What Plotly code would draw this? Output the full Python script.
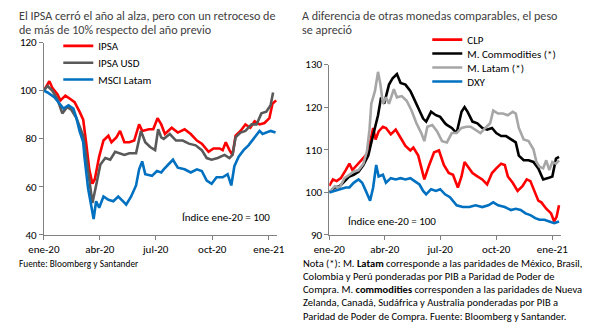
import pandas as pd
import plotly.graph_objects as go

BASE = pd.Timestamp("2020-01-01")

# ---------- Panel izquierdo (días desde 2020-01-01) ----------
ipsa_dias = [0,9,14,22,27,35,43,50,58,64,69,74,79,83,90,97,105,110,118,124,131,139,147,155,160,171,178,185,191,197,208,218,229,239,249,257,268,276,286,291,296,302,307,312,320,328,336,343,351,359,367,372,378]
ipsa_val = [100,103.9,101,98.5,95.9,97.9,96.5,95.2,91.2,87.9,77.9,67,61.2,63.2,72.5,79.2,81.2,78.5,80.5,83.2,78.5,78.5,79.2,85.9,83.2,83.9,83.9,88.5,85.9,81.9,84.5,82.5,83.9,81.9,79.2,77.9,74.5,75.9,75.9,75.2,78.5,75.2,73.2,81.2,83.2,85.9,84.5,87.2,85.9,86.5,88.5,94.5,95.9]

ipsausd_dias = [0,6,14,22,30,38,45,53,58,64,69,74,79,85,92,100,108,116,124,131,139,150,158,165,173,181,186,191,195,205,215,226,236,247,257,265,273,283,294,302,307,312,320,328,338,346,354,362,369,373]
ipsausd_val = [100,101.9,99.9,96.5,90.5,93.2,91.9,88.5,85.2,81.2,72.5,61.9,53.2,60.5,69.2,71.9,71.2,74.5,73.9,73.2,73.9,73.9,83.2,78.5,76.5,75.2,83.9,80.5,79.9,81.9,79.2,79.2,77.9,77.2,75.2,71.9,71.2,71.9,73.2,71.9,73.2,80.5,82.5,83.2,85.9,85.9,90.5,91.2,93.9,99.2]

msci_dias = [0,6,17,25,32,40,48,53,58,64,66,72,77,81,85,90,97,105,113,121,129,134,142,150,155,160,165,176,184,191,195,202,210,218,229,239,249,257,265,273,281,291,299,305,310,317,325,333,341,351,356,364,369,377]
msci_val = [100,99.2,97.2,94.5,92.5,93.9,92.5,88.5,83.2,78.5,72.5,59.2,51.2,46.5,53.9,51.2,55.9,54.5,53.9,55.9,53.9,52.5,55.9,60.5,67.2,70.5,65.2,64.5,66.5,65.9,67.2,69.2,71.2,67.9,67.2,65.9,67.2,66.5,62.5,61.2,63.9,63.9,65.2,60.5,68.5,72.5,75.2,77.2,79.9,83.2,81.9,82.5,83.2,82.5]

# ---------- Panel derecho ----------
clp_dias = [0,6,12,19,27,33,38,46,51,56,62,67,72,76,81,88,93,101,109,117,125,133,138,146,151,156,164,172,180,188,196,203,211,217,222,227,235,243,251,259,267,274,282,288,293,301,309,317,324,330,335,343,348,356,364,369,373,377]
clp_val = [101.5,103,102.6,103.3,105.2,106.7,105.2,106.4,107.1,107.9,109,111.7,115.1,112.4,114.3,115.4,115.1,113.6,114.7,112.8,110.9,109.8,110.5,108.6,105.6,103,106.4,109.4,109.8,106.4,104.5,104.1,101.1,103.7,107.1,106,104.5,103.7,103,101.8,104.5,105.6,106.7,106.4,103.7,102.2,100.3,101.4,103,102.6,100.7,98,97.6,96.1,95,93.1,94.2,96.9]

com_dias = [0,9,17,25,33,40,48,56,64,69,76,80,85,90,98,104,111,117,125,133,138,146,154,159,167,175,182,190,193,201,209,217,222,227,235,243,251,259,267,274,282,290,298,306,311,319,327,335,343,351,359,366,372,377]
com_val = [100,101.1,101.4,102.6,103.7,104.1,104.8,106.4,108.6,111.7,115.4,118.1,122.3,120.8,125.3,126.8,127.8,125.7,125.3,123.8,122.3,119.6,117.3,116.6,118.9,118.1,117.7,116.2,115.8,115.1,113.9,118.9,120,118.9,116.6,116.2,115.1,114.7,115.1,113.9,113.2,113.2,112.4,111.7,108.6,107.5,107.5,107.1,105.6,103,103.3,103.7,107.9,108.3]

lat_dias = [0,9,17,25,33,40,48,56,62,66,69,75,80,84,88,93,98,106,111,119,127,135,143,151,156,161,169,177,185,193,201,209,217,225,232,240,248,256,264,269,277,285,293,301,306,311,319,327,335,340,345,351,356,361,366,372,377]
lat_val = [100,101.4,101.1,103.3,104.1,104.8,105.2,106.7,109.8,114.7,120.8,123.8,128.3,125.3,120.8,122.3,120.8,124.2,122.3,122.6,121.5,119.2,116.2,113.9,112,115.4,115.8,114.3,112,111.7,113.9,113.9,115.1,115.4,115.4,114.7,113.9,115.1,116.2,119.2,118.5,118.5,118.1,118.9,118.5,115.1,112.4,112,110.1,107.1,106,105.6,107.5,105.2,107.1,106.7,107.5]

dxy_dias = [0,9,19,27,33,40,48,54,60,67,72,77,81,88,93,101,109,117,125,133,140,148,154,159,167,175,182,190,198,209,219,230,240,251,261,269,277,288,298,306,314,322,330,338,345,353,361,369,377]
dxy_val = [99.9,100.3,100.7,101.1,101.1,102.2,103,102.2,100.3,98,101.1,106.4,103.7,104.1,102.2,103.3,103,103.3,103,103.3,102.6,101.8,100.3,99.5,100.7,100.3,100.7,99.5,98.8,96.9,96.5,96.5,96.9,96.5,96.9,97.6,96.9,96.5,95.8,96.1,95.8,95,94.6,93.9,93.5,93.5,93.1,92.7,93.1]

tick_fechas = ["2020-01-01", "2020-04-01", "2020-07-01", "2020-10-01", "2021-01-01"]
tick_textos = ["ene-20", "abr-20", "jul-20", "oct-20", "ene-21"]

titulo_izq = ["El IPSA cerró el año al alza, pero con un retroceso de",
              "de más de 10% respecto del año previo"]
titulo_der = ["A diferencia de otras monedas comparables, el peso",
              "se apreció"]
nota_lineas = ["Nota (*): M. <b>Latam</b> corresponde a las paridades de México, Brasil,",
               "Colombia y Perú ponderadas por PIB a Paridad de Poder de",
               "Compra. M. <b>commodities</b> corresponden a las paridades de Nueva",
               "Zelanda, Canadá, Sudáfrica y Australia ponderadas por PIB a",
               "Paridad de Poder de Compra. Fuente: Bloomberg y Santander."]
fuente_izq = "Fuente: Bloomberg y Santander"
indice_txt = "Índice ene-20 = 100"


def fechas(dias):
    return BASE + pd.to_timedelta(dias, unit="D")


W, H = 589, 332
FONT = "Carlito, Lato"
TXT = "#404040"

fig = go.Figure()

series = [
    ("IPSA", ipsa_dias, ipsa_val, "#ff0000", "x", "y", "legend"),
    ("IPSA USD", ipsausd_dias, ipsausd_val, "#595959", "x", "y", "legend2"),
    ("MSCI Latam", msci_dias, msci_val, "#0070c0", "x", "y", "legend3"),
    ("CLP", clp_dias, clp_val, "#ff0000", "x2", "y2", "legend4"),
    ("M. Commodities (*)", com_dias, com_val, "#000000", "x2", "y2", "legend5"),
    ("M. Latam (*)", lat_dias, lat_val, "#a6a6a6", "x2", "y2", "legend6"),
    ("DXY", dxy_dias, dxy_val, "#0070c0", "x2", "y2", "legend7"),
]
for name, d, v, col, xa, ya, lg in series:
    fig.add_trace(go.Scatter(x=fechas(d), y=v, mode="lines", name=name,
                             line=dict(color=col, width=2.6), xaxis=xa, yaxis=ya,
                             legend=lg))


def px2x(p):
    return p / W


def px2y(p):
    return 1 - p / H


axis_common = dict(showline=True, linecolor="#808080", linewidth=1, ticks="outside",
                   tickcolor="#808080", ticklen=4, showgrid=False, zeroline=False,
                   tickfont=dict(family=FONT, size=11, color="#000000"))

xr = ["2020-01-01", "2021-01-15"]
fig.update_layout(
    width=W, height=H, margin=dict(l=0, r=0, t=0, b=0),
    paper_bgcolor="white", plot_bgcolor="white",
    font=dict(family=FONT, size=11, color="#000000"),
    xaxis=dict(domain=[px2x(29), px2x(272)], range=xr, anchor="y",
               tickvals=tick_fechas, ticktext=tick_textos, **axis_common),
    yaxis=dict(domain=[px2y(238), px2y(38)], range=[40, 120], anchor="x",
               tickvals=[40, 60, 80, 100, 120], **axis_common),
    xaxis2=dict(domain=[px2x(326), px2x(567)], range=xr, anchor="y2",
                tickvals=tick_fechas, ticktext=tick_textos, **axis_common),
    yaxis2=dict(domain=[px2y(238), px2y(61)], range=[90, 130], anchor="x2",
                tickvals=[90, 100, 110, 120, 130], **axis_common),
    showlegend=True,
)

leg_pos = {
    "legend": (44, 41.5), "legend2": (44, 59), "legend3": (44, 76.5),
    "legend4": (428, 35), "legend5": (428, 49.5), "legend6": (428, 64), "legend7": (428, 78.5),
}
for key, (lx, ly) in leg_pos.items():
    fig.layout[key] = dict(x=px2x(lx), y=px2y(ly), xanchor="left", yanchor="middle",
                           bgcolor="rgba(0,0,0,0)", font=dict(family=FONT, size=11, color="#000000"),
                           itemwidth=30, tracegroupgap=0)


def texto(t, xp, yp, size, color="#000000"):
    fig.add_annotation(text=t, x=px2x(xp), y=px2y(yp), xref="paper", yref="paper",
                       xanchor="left", yanchor="middle", showarrow=False, align="left",
                       font=dict(family=FONT, size=size, color=color))


for i, t in enumerate(titulo_izq):
    texto(t, 1, 9.5 + 15 * i, 12.1, TXT)
for i, t in enumerate(titulo_der):
    texto(t, 296, 9.5 + 15 * i, 12.1, TXT)
texto(fuente_izq, 1, 268, 9.3)
for i, t in enumerate(nota_lineas):
    texto(t, 297, 268 + 13.7 * i, 10.5)
texto(indice_txt, 171, 220, 11)
texto(indice_txt, 343, 224, 11)

fig.write_html("out.html")
